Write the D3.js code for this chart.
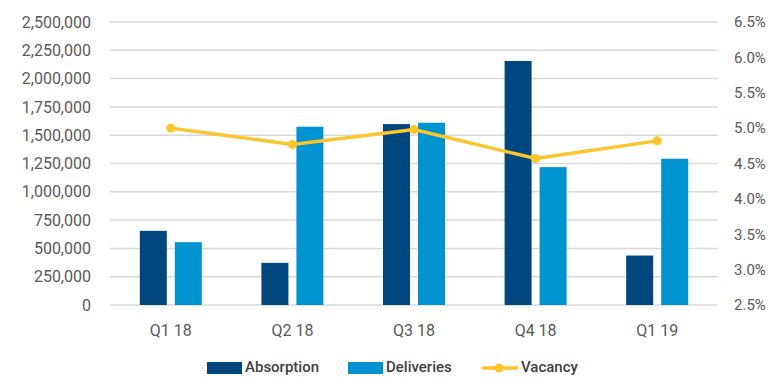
<!DOCTYPE html>
<html>
<head>
  <style>
    html, body { margin: 0; padding: 0; background: white; overflow: hidden; }
    svg { display: block; }
  </style>
</head>
<body>
  <div id="chart"></div>
  <script src="https://cdnjs.cloudflare.com/ajax/libs/d3/7.8.5/d3.min.js"></script>
  <script>
    const quarters = ["Q1 18", "Q2 18", "Q3 18", "Q4 18", "Q1 19"];
    const absorption = [655000, 372000, 1598000, 2156000, 437000];
    const deliveries = [555000, 1575000, 1610000, 1218000, 1292000];
    const vacancy = [5.0, 4.77, 4.98, 4.57, 4.82];
    const leftTicks = [0, 250000, 500000, 750000, 1000000, 1250000, 1500000, 1750000, 2000000, 2250000, 2500000];
    const rightTicks = [2.5, 3.0, 3.5, 4.0, 4.5, 5.0, 5.5, 6.0, 6.5];

    const width = 773, height = 377;
    const margin = { top: 22, right: 55, bottom: 72, left: 110 };
    const innerWidth = width - margin.left - margin.right;
    const innerHeight = height - margin.top - margin.bottom;

    const colors = { abs: "#00467f", del: "#0093d0", vac: "#fdc52c" };
    const font = "Roboto, sans-serif";

    const svg = d3.select("#chart").append("svg")
      .attr("width", width)
      .attr("height", height)
      .attr("viewBox", `0 0 ${width} ${height}`);

    const g = svg.append("g")
      .attr("transform", `translate(${margin.left},${margin.top})`);

    // Escalas
    const x = d3.scaleBand().domain(quarters).range([0, innerWidth]);
    const yL = d3.scaleLinear().domain([0, 2500000]).range([innerHeight, 0]);
    const yR = d3.scaleLinear().domain([2.5, 6.5]).range([innerHeight, 0]);

    // Rejilla
    g.append("g")
      .selectAll("line")
      .data(leftTicks)
      .join("line")
      .attr("x1", 0)
      .attr("x2", innerWidth)
      .attr("y1", d => yL(d))
      .attr("y2", d => yL(d))
      .attr("stroke", "#d9d9d9")
      .attr("stroke-width", 1.5);

    // Ejes
    function styleAxis(sel, size) {
      sel.select(".domain").remove();
      sel.attr("font-family", font).attr("font-size", size);
      sel.selectAll("text").attr("fill", "#595959");
    }

    g.append("g")
      .call(d3.axisLeft(yL).tickValues(leftTicks).tickFormat(d3.format(",")).tickSize(0).tickPadding(19))
      .call(styleAxis, 16);

    g.append("g")
      .attr("transform", `translate(${innerWidth},0)`)
      .call(d3.axisRight(yR).tickValues(rightTicks).tickFormat(d => d.toFixed(1) + "%").tickSize(0).tickPadding(16))
      .call(styleAxis, 15);

    g.append("g")
      .attr("transform", `translate(0,${innerHeight})`)
      .call(d3.axisBottom(x).tickSize(0).tickPadding(20))
      .call(styleAxis, 16);

    // Barras
    const barW = 27, gap = 8;
    const bars = [
      { key: "abs", values: absorption, offset: -(gap / 2 + barW) },
      { key: "del", values: deliveries, offset: gap / 2 }
    ];
    bars.forEach(s => {
      g.append("g")
        .selectAll("rect")
        .data(s.values)
        .join("rect")
        .attr("x", (d, i) => x(quarters[i]) + x.bandwidth() / 2 + s.offset)
        .attr("y", d => yL(d))
        .attr("width", barW)
        .attr("height", d => innerHeight - yL(d))
        .attr("fill", colors[s.key]);
    });

    // Línea de vacancia
    const line = d3.line()
      .x((d, i) => x(quarters[i]) + x.bandwidth() / 2)
      .y(d => yR(d));

    g.append("path")
      .datum(vacancy)
      .attr("d", line)
      .attr("fill", "none")
      .attr("stroke", colors.vac)
      .attr("stroke-width", 3.5);

    g.append("g")
      .selectAll("circle")
      .data(vacancy)
      .join("circle")
      .attr("cx", (d, i) => x(quarters[i]) + x.bandwidth() / 2)
      .attr("cy", d => yR(d))
      .attr("r", 4.5)
      .attr("fill", colors.vac);

    // Leyenda
    const legend = svg.append("g")
      .attr("font-family", font)
      .attr("font-size", 15)
      .attr("font-weight", 500)
      .attr("fill", "#404040");
    const ly = 367;
    legend.append("rect").attr("x", 207).attr("y", ly - 5).attr("width", 35).attr("height", 12).attr("fill", colors.abs);
    legend.append("text").attr("x", 245).attr("y", ly).attr("dy", "0.35em").text("Absorption");
    legend.append("rect").attr("x", 348).attr("y", ly - 5).attr("width", 35).attr("height", 12).attr("fill", colors.del);
    legend.append("text").attr("x", 386).attr("y", ly).attr("dy", "0.35em").text("Deliveries");
    legend.append("line").attr("x1", 482).attr("x2", 518).attr("y1", ly + 1).attr("y2", ly + 1)
      .attr("stroke", colors.vac).attr("stroke-width", 3.5);
    legend.append("circle").attr("cx", 499).attr("cy", ly + 1).attr("r", 4.5).attr("fill", colors.vac);
    legend.append("text").attr("x", 521).attr("y", ly).attr("dy", "0.35em").text("Vacancy");
  </script>
</body>
</html>
